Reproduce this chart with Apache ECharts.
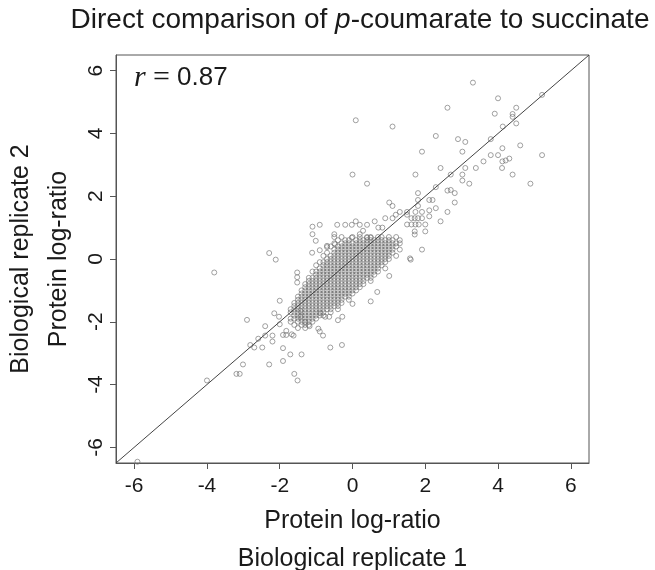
<!DOCTYPE html>
<html><head><meta charset="utf-8">
<script src="https://cdn.jsdelivr.net/npm/echarts@6/dist/echarts.min.js"></script>
<style>html,body{margin:0;padding:0;background:#fff}#c{width:655px;height:570px}</style>
</head><body><div id="c"></div>
<script>
// ---- data ----
const xTicks = [-6, -4, -2, 0, 2, 4, 6];
const yTicks = [-6, -4, -2, 0, 2, 4, 6];
const axisRange = [-6.5, 6.5];
const diagonal = [[-6.5, -6.5], [6.5, 6.5]];
const titleText = 'Direct comparison of {i|p}-coumarate to succinate';
const rLabel = '{r|r} {eq|=} {v|0.87}';
const xName = 'Protein log-ratio\nBiological replicate 1';
const yName = 'Biological replicate 2\nProtein log-ratio';

// scattered proteins (read individually)
const outlierPoints = [
 [3.31,5.62],[4.0,5.12],[5.21,5.23],[2.61,4.82],[0.09,4.42],[1.10,4.22],[3.91,4.63],[4.40,4.62],[4.40,4.53],
 [4.50,4.82],[4.50,4.32],[4.13,4.22],[2.29,3.92],[2.90,3.82],[3.10,3.73],[3.80,3.82],[1.91,3.42],[3.02,3.42],
 [4.12,3.53],[4.61,3.62],[3.80,3.31],[4.00,3.31],[5.21,3.31],[4.12,3.11],[4.21,3.14],[4.31,3.20],[4.11,2.90],
 [3.60,3.11],[3.39,2.90],[3.10,2.90],[2.42,2.90],[4.40,2.69],[4.89,2.40],[0.0,2.69],[0.40,2.40],[1.73,2.69],
 [2.70,2.69],[3.02,2.69],[3.02,2.50],[3.21,2.40],[2.29,2.29],[2.61,2.18],[2.70,2.20],[2.81,2.10],[1.80,2.10],
 [1.80,1.88],[1.80,1.69],[2.11,1.88],[2.20,1.88],[2.29,1.62],[2.11,1.55],[2.11,1.36],[2.81,1.80],[2.61,1.50],
 [2.42,1.20],[1.01,1.80],[1.10,1.69],[1.50,1.50],[1.50,1.41],[1.73,1.50],[1.91,1.50],[1.30,1.50],[1.19,1.41],
 [1.10,1.30],[0.90,1.30],[1.62,1.30],[1.71,1.30],[1.80,1.30],[1.91,1.30],[1.50,1.10],[1.62,1.10],[1.73,1.10],
 [1.82,1.10],[2.0,1.10],[2.0,0.88],[1.71,0.88],[1.71,0.78],[1.91,0.30],[1.58,0.02],[-0.42,1.09],[-0.20,1.09],
 [-0.02,1.09],[0.20,1.09],[0.40,1.09],[0.61,1.20],[0.09,1.20],[-0.50,0.79],[-0.02,0.68],[0.20,0.79],[0.29,0.90],
 [0.71,1.0],[0.82,1.0],[0.40,0.68],[0.50,0.68],
 [-3.80,-0.43],[-2.29,0.19],[-2.11,-0.02],[-2.90,-1.94],[-4.0,-3.87],[-3.19,-3.66],[-3.10,-3.66],[-3.01,-3.36],
 [-2.29,-3.36],[-2.81,-2.74],[-2.70,-2.82],[-2.48,-2.82],[-2.59,-2.54],[-2.40,-2.44],[-2.40,-2.14],[-2.20,-2.44],
 [-2.20,-2.63],[-1.91,-2.84],[-1.91,-3.25],[-1.71,-3.04],[-1.40,-3.04],[-1.60,-3.66],[-1.51,-3.87],[-0.61,-2.82],
 [-0.29,-2.74],[-0.90,-2.31],[-0.81,-2.44],[-2.0,-1.33],[-2.15,-1.73],[-2.02,-1.84],[-2.0,-2.08],[-1.82,-2.29],
 [-1.82,-2.42],[-1.67,-2.40],[-1.91,-2.42],[-1.52,-0.43],[-1.52,-0.58],[-1.52,-0.75],[-1.10,1.03],[-0.90,1.09],
 [-1.10,0.79],[-1.01,0.58],[-0.90,0.28],[-1.11,0.20],[-0.70,0.42],[-0.48,0.47],[-0.70,0.38],[1.60,-0.02],
 [1.01,-0.54],[0.68,-1.05],[0.50,-1.35],[0.0,-1.43],[-0.28,-1.84],[-0.64,-1.84],[-0.88,-1.73],[-0.75,-1.84],
 [-0.40,-1.95],[-1.18,-2.14],[-1.30,-2.01],[-1.43,-1.84],[-1.43,-1.65],[-1.62,-2.44],[-0.94,-2.22],[-5.91,-6.46]
];

// dense core, values quantised to tenths: [y*10, [x*10 ...]]
const coreRows = [
 [7,  [-5,-3,0,2,4,5,7,8,10,12]],
 [6,  [-4,-2,-1,1,2,3,4,5,6,7,8,9,10,11,13]],
 [5,  [-5,-3,-2,-1,0,1,2,3,4,5,6,7,8,9,10,11,12,13]],
 [4,  [-6,-4,-3,-2,-1,0,1,2,3,4,5,6,7,8,9,10,11,12]],
 [3,  [-5,-4,-3,-2,-1,0,1,2,3,4,5,6,7,8,9,10,11,13]],
 [2,  [-7,-5,-4,-3,-2,-1,0,1,2,3,4,5,6,7,8,9,10,11]],
 [1,  [-8,-6,-5,-4,-3,-2,-1,0,1,2,3,4,5,6,7,8,9,10,12]],
 [0,  [-7,-6,-5,-4,-3,-2,-1,0,1,2,3,4,5,6,7,8,9,10]],
 [-1, [-9,-8,-7,-6,-5,-4,-3,-2,-1,0,1,2,3,4,5,6,7,8,9]],
 [-2, [-10,-8,-7,-6,-5,-4,-3,-2,-1,0,1,2,3,4,5,6,7,8]],
 [-3, [-9,-8,-7,-6,-5,-4,-3,-2,-1,0,1,2,3,4,5,6,7,9]],
 [-4, [-11,-10,-9,-8,-7,-6,-5,-4,-3,-2,-1,0,1,2,3,4,5,6,7]],
 [-5, [-10,-9,-8,-7,-6,-5,-4,-3,-2,-1,0,1,2,3,4,5,6]],
 [-6, [-12,-11,-10,-9,-8,-7,-6,-5,-4,-3,-2,-1,0,1,2,3,4,5]],
 [-7, [-12,-11,-10,-9,-8,-7,-6,-5,-4,-3,-2,-1,0,1,2,3,5]],
 [-8, [-13,-12,-11,-10,-9,-8,-7,-6,-5,-4,-3,-2,-1,0,1,2,3]],
 [-9, [-13,-12,-11,-10,-9,-8,-7,-6,-5,-4,-3,-2,-1,0,1,2]],
 [-10,[-14,-13,-12,-11,-10,-9,-8,-7,-6,-5,-4,-3,-2,-1,0,1]],
 [-11,[-14,-13,-12,-11,-10,-9,-8,-7,-6,-5,-4,-3,-2,-1,0]],
 [-12,[-15,-14,-13,-12,-11,-10,-9,-8,-7,-6,-5,-4,-3,-2,-1]],
 [-13,[-15,-14,-13,-12,-11,-10,-9,-8,-7,-6,-5,-4,-3,-1]],
 [-14,[-16,-15,-14,-13,-12,-11,-10,-9,-8,-7,-6,-5,-4,-3]],
 [-15,[-16,-15,-14,-13,-12,-11,-10,-9,-8,-7,-6,-5,-4]],
 [-16,[-17,-16,-15,-14,-13,-12,-11,-10,-9,-8,-7,-6,-4]],
 [-17,[-17,-16,-15,-14,-13,-12,-11,-10,-9,-8,-6]],
 [-18,[-16,-15,-14,-13,-12,-11,-10,-9,-8]],
 [-19,[-17,-16,-15,-14,-13,-12,-11,-10]],
 [-20,[-17,-15,-14,-13,-12,-11]],
 [-21,[-16,-14,-13,-12]],
 [-22,[-15,-13]]
];

// ---- build ----
const corePoints = [];
coreRows.forEach(([y, xs]) => xs.forEach(x => corePoints.push([x / 10, y / 10])));
const allPoints = corePoints.concat(outlierPoints);

const FONT = 'Liberation Sans, Arial, Helvetica, sans-serif';
const SERIF = 'Liberation Serif, Times New Roman, serif';
const INK = '#1a1a1a';
const AX = '#555';

const chart = echarts.init(document.getElementById('c'), null, {renderer: 'canvas'});
chart.setOption({
  animation: false,
  backgroundColor: '#fff',
  grid: {left: 116, right: 66, top: 55, bottom: 107, show: true, borderColor: AX, borderWidth: 1,
         backgroundColor: 'transparent', containLabel: false, outerBoundsMode: 'none'},
  xAxis: {
    type: 'value', min: axisRange[0], max: axisRange[1],
    splitLine: {show: false},
    axisLine: {show: true, onZero: false, lineStyle: {color: AX, width: 1}},
    axisTick: {show: true, length: 6, customValues: xTicks, lineStyle: {color: AX}},
    axisLabel: {customValues: xTicks, fontSize: 21, color: INK, margin: 13, fontFamily: FONT},
    name: xName, nameLocation: 'middle', nameGap: 38,
    nameTextStyle: {fontSize: 25, lineHeight: 38, color: INK, fontFamily: FONT}
  },
  yAxis: {
    type: 'value', min: axisRange[0], max: axisRange[1],
    splitLine: {show: false},
    axisLine: {show: true, onZero: false, lineStyle: {color: AX, width: 1}},
    axisTick: {show: true, length: 6, customValues: yTicks, lineStyle: {color: AX}},
    axisLabel: {customValues: yTicks, fontSize: 21, color: INK, margin: 9, rotate: 90, fontFamily: FONT},
    name: yName, nameLocation: 'middle', nameGap: 27, nameRotate: 90,
    nameTextStyle: {fontSize: 25, lineHeight: 38, color: INK, fontFamily: FONT}
  },
  graphic: [
    {type: 'text', x: 360, y: 20, silent: true,
     style: {text: titleText, fill: INK, font: '28px ' + FONT, textAlign: 'center', textVerticalAlign: 'middle',
       rich: {i: {fontStyle: 'italic', fontSize: 28, fontFamily: FONT, fill: INK}}}},
    {type: 'text', x: 134, y: 78, silent: true,
     style: {text: rLabel, fill: INK, font: '26px ' + FONT, textAlign: 'left', textVerticalAlign: 'middle',
       rich: {
         r: {fontStyle: 'italic', fontSize: 30, fontFamily: SERIF, fill: INK},
         eq: {fontSize: 30, fontFamily: SERIF, fill: INK},
         v: {fontSize: 26, fontFamily: FONT, fill: INK}
       }}}
  ],
  series: [
    {type: 'line', data: diagonal, symbol: 'none', silent: true, z: 3,
     lineStyle: {color: '#444', width: 1}},
    {type: 'scatter', data: allPoints, symbol: 'circle', symbolSize: 5, silent: true, z: 2,
     itemStyle: {color: 'rgba(0,0,0,0)', borderColor: '#747474', borderWidth: 0.85}}
  ]
});
</script></body></html>
